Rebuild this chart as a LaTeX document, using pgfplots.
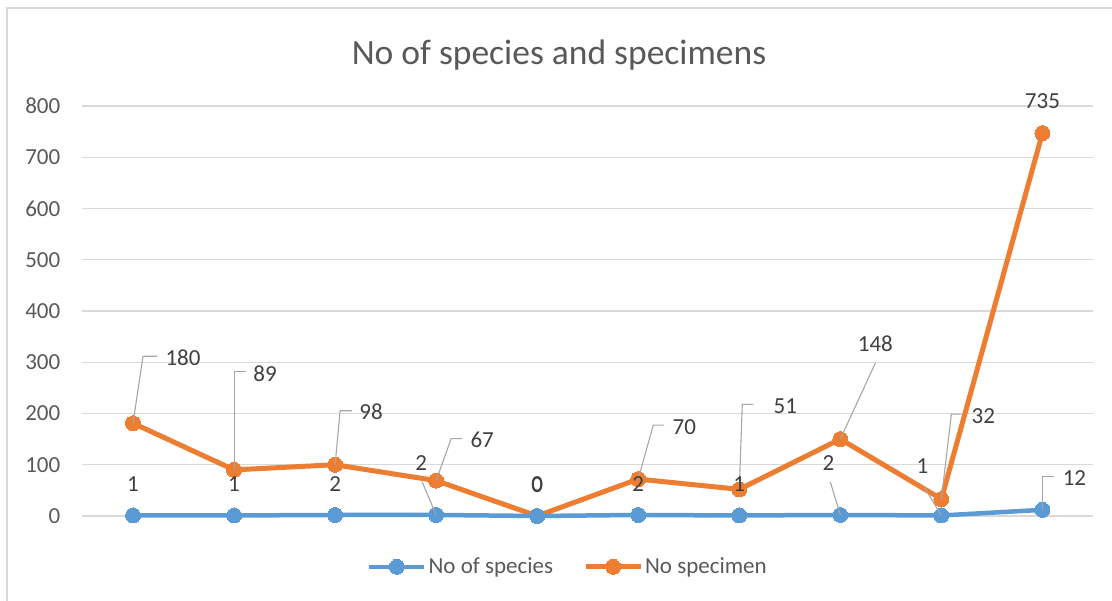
\documentclass[border=0pt]{standalone}
\usepackage{pgfplots}
\pgfplotsset{compat=1.18}
\usepackage{fontspec}
\setmainfont{Carlito}
\definecolor{cblue}{HTML}{5B9BD5}
\definecolor{corange}{HTML}{ED7D31}
\definecolor{tgray}{HTML}{595959}
\definecolor{lgray}{HTML}{404040}
\definecolor{ggray}{HTML}{D9D9D9}
\definecolor{leader}{HTML}{A6A6A6}
\begin{document}
\begin{tikzpicture}[x=1pt,y=1pt]
\path[use as bounding box] (0,0) rectangle (1112,601);
\draw[ggray, line width=1.5pt] (7,0) -- (7,593) -- (1112,593);
\node[anchor=base, text=tgray, font=\fontsize{35.5}{42}\selectfont] at (559,536) {No of species and specimens};
\begin{axis}[
  at={(82.5pt,85pt)}, anchor=south west,
  scale only axis, width=1010.5pt, height=410pt,
  xmin=-0.5, xmax=9.5, ymin=0, ymax=800,
  xtick=\empty, ytick={0,100,...,800},
  ymajorgrids, major grid style={ggray, line width=1.3pt},
  axis line style={draw=none}, tick style={draw=none},
  /pgf/number format/assume math mode=true,
  yticklabel style={font=\fontsize{23}{27}\selectfont, text=tgray, inner sep=0pt, xshift=-22pt},
  clip=false,
  stack plots=y,
  legend style={at={(0.4804,-0.124)}, anchor=center, draw=none, fill=none,
    font=\fontsize{23}{27}\selectfont, text=tgray, legend columns=2,
    /tikz/every even column/.append style={column sep=28pt},
    nodes={inner sep=2pt}},
  legend image code/.code={\draw[mark repeat=2,mark phase=2,#1] plot coordinates {(0pt,0pt) (27.5pt,0pt) (55pt,0pt)};},
]
\addplot[cblue, line width=4.5pt, mark=*, mark size=7.5pt, mark options={fill=cblue, draw=cblue, line width=0pt}] coordinates {
 (0,1) (1,1) (2,2) (3,2) (4,0) (5,2) (6,1) (7,2) (8,1) (9,12)};
\addlegendentry{No of species}
\addplot[corange, line width=5pt, mark=*, mark size=7.5pt, mark options={fill=corange, draw=corange, line width=0pt}] coordinates {
 (0,180) (1,89) (2,98) (3,67) (4,0) (5,70) (6,51) (7,148) (8,32) (9,735)};
\addlegendentry{No specimen}
\end{axis}
\begin{axis}[
  at={(82.5pt,85pt)}, anchor=south west,
  scale only axis, width=1010.5pt, height=410pt,
  xmin=-0.5, xmax=9.5, ymin=0, ymax=800,
  hide axis, clip=false]
\tikzset{lab/.style={font=\fontsize{23}{27}\selectfont, text=lgray, inner sep=0pt}, ld/.style={leader, line width=1.1pt}}
% leaders for specimen (stacked positions)
\draw[ld] (axis cs:0,181) -- ++(10pt,67pt) -- ++(14pt,0pt);
\draw[ld] (axis cs:1,90) -- ++(0pt,98pt) -- ++(12pt,0pt);
\draw[ld] (axis cs:2,100) -- ++(5pt,54pt) -- ++(12pt,0pt);
\draw[ld] (axis cs:3,69) -- ++(15pt,42pt) -- ++(11pt,0pt);
\draw[ld] (axis cs:5,72) -- ++(15pt,54pt) -- ++(11pt,0pt);
\draw[ld] (axis cs:6,52) -- ++(3pt,85pt) -- ++(11pt,0pt);
\draw[ld] (axis cs:7,150) -- ++(35pt,76pt);
\draw[ld] (axis cs:8,33) -- ++(10pt,85pt) -- ++(10pt,0pt);
% leaders for species
\draw[ld] (axis cs:3,2) -- ++(-14pt,33pt);
\draw[ld] (axis cs:7,2) -- ++(-10pt,33pt);
\draw[ld] (axis cs:8,1) -- ++(-17pt,28pt);
\draw[ld] (axis cs:9,12) -- ++(0pt,33pt) -- ++(12pt,0pt);
% specimen labels
\node[lab] at ([shift={(50pt,65pt)}]axis cs:0,181) {180};
\node[lab] at ([shift={(31pt,96pt)}]axis cs:1,90) {89};
\node[lab] at ([shift={(36pt,53pt)}]axis cs:2,100) {98};
\node[lab] at ([shift={(46pt,41pt)}]axis cs:3,69) {67};
\node[lab] at ([shift={(0pt,32pt)}]axis cs:4,0) {0};
\node[lab] at ([shift={(46pt,52pt)}]axis cs:5,72) {70};
\node[lab] at ([shift={(46pt,83pt)}]axis cs:6,52) {51};
\node[lab] at ([shift={(35pt,95pt)}]axis cs:7,150) {148};
\node[lab] at ([shift={(42pt,83pt)}]axis cs:8,33) {32};
\node[lab] at ([shift={(0pt,32pt)}]axis cs:9,747) {735};
% species labels
\node[lab] at ([shift={(0pt,31pt)}]axis cs:0,1) {1};
\node[lab] at ([shift={(0pt,31pt)}]axis cs:1,1) {1};
\node[lab] at ([shift={(0pt,31pt)}]axis cs:2,2) {2};
\node[lab] at ([shift={(-15pt,52pt)}]axis cs:3,2) {2};
\node[lab] at ([shift={(0pt,31pt)}]axis cs:4,0) {0};
\node[lab] at ([shift={(0pt,31pt)}]axis cs:5,2) {2};
\node[lab] at ([shift={(0pt,31pt)}]axis cs:6,1) {1};
\node[lab] at ([shift={(-12pt,52pt)}]axis cs:7,2) {2};
\node[lab] at ([shift={(-19pt,49pt)}]axis cs:8,1) {1};
\node[lab] at ([shift={(32pt,32pt)}]axis cs:9,12) {12};
\end{axis}
\end{tikzpicture}
\end{document}
